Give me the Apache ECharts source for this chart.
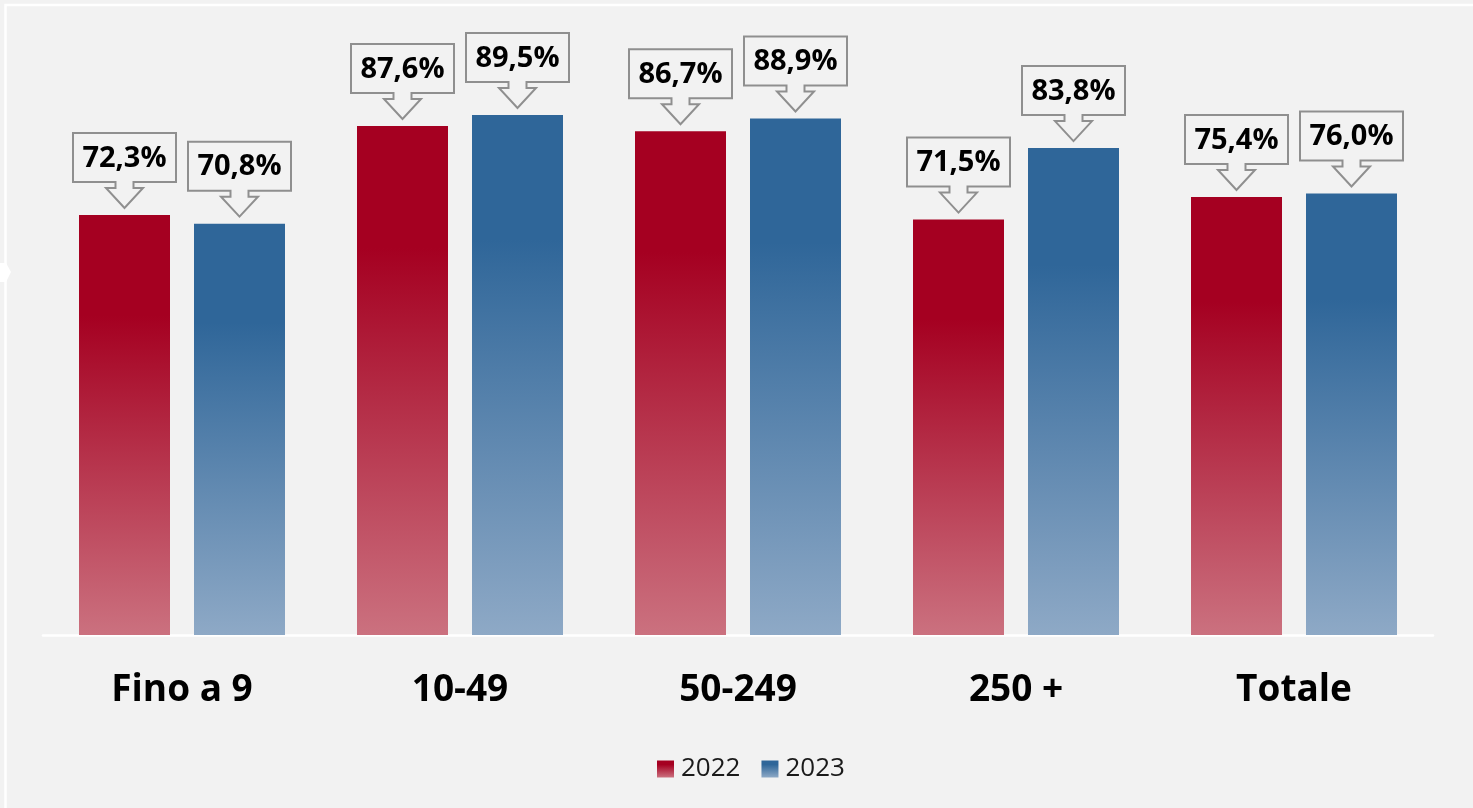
<!DOCTYPE html>
<html>
<head>
<meta charset="utf-8">
<script src="https://cdn.jsdelivr.net/npm/echarts@6/dist/echarts.min.js"></script>
<style>
html,body{margin:0;padding:0;background:#f2f2f2;}
#chart{width:1473px;height:808px;}
</style>
</head>
<body>
<div id="chart"></div>
<script>
const categories = ['Fino a 9', '10-49', '50-249', '250 +', 'Totale'];
const seriesNames = ['2022', '2023'];
const values2022 = [72.3, 87.6, 86.7, 71.5, 75.4];
const values2023 = [70.8, 89.5, 88.9, 83.8, 76.0];

const FONT = '"Open Sans", "Noto Sans", sans-serif';
const BAR_W = 91;
const BAR_GAP = 24;
const RED_TOP = '#a50021', RED_BOT = '#cb717f';
const BLUE_TOP = '#2f6699', BLUE_BOT = '#8ea9c6';

function grad(top, bot) {
  return new echarts.graphic.LinearGradient(0, 0, 0, 1, [
    {offset: 0, color: top},
    {offset: 0.24, color: top},
    {offset: 1, color: bot}
  ]);
}

function fmt(v) { return v.toFixed(1).replace('.', ',') + '%'; }

function calloutSeries(vals, sign) {
  return {
    type: 'custom',
    coordinateSystem: 'cartesian2d',
    silent: true,
    z: 5,
    data: vals.map((v, i) => [i, v]),
    encode: {x: 0, y: 1},
    renderItem: function (params, api) {
      const p = api.coord([api.value(0), api.value(1)]);
      const cx = p[0] + sign * (BAR_W + BAR_GAP) / 2;
      const y0 = p[1];
      const hw = 51.5, top = y0 - 82, bot = y0 - 33;
      const sw = 9, hh = 18.5, sh = y0 - 27, tip = y0 - 7;
      const pts = [
        [cx - hw, top], [cx + hw, top], [cx + hw, bot],
        [cx + sw, bot], [cx + sw, sh], [cx + hh, sh], [cx, tip],
        [cx - hh, sh], [cx - sw, sh], [cx - sw, bot], [cx - hw, bot]
      ];
      return {
        type: 'group',
        children: [
          {type: 'polygon', shape: {points: pts},
           style: {fill: '#f2f2f2', stroke: '#8f8f8f', lineWidth: 2}},
          {type: 'text', x: cx, y: (top + bot) / 2 + 1,
           style: {text: fmt(api.value(1)), textAlign: 'center', textVerticalAlign: 'middle',
                   fontSize: 29, fontWeight: 'bold', fontFamily: FONT, fill: '#000'}}
        ]
      };
    }
  };
}

const chart = echarts.init(document.getElementById('chart'));
chart.setOption({
  animation: false,
  backgroundColor: '#f2f2f2',
  graphic: [
    {type: 'rect', shape: {x: 5.5, y: 5, width: 1500, height: 900},
     style: {fill: 'none', stroke: '#ffffff', lineWidth: 2.5}},
    {type: 'polygon', shape: {points: [[0, 263], [6, 263], [11, 272], [6, 282], [0, 282]]},
     style: {fill: '#ffffff'}}
  ],
  grid: {left: 43, right: 40, top: 54, bottom: 173, containLabel: false},
  legend: {
    data: seriesNames,
    left: 652, top: 751,
    icon: 'rect', itemWidth: 17, itemHeight: 17, itemGap: 21,
    textStyle: {fontFamily: FONT, fontSize: 26, color: '#1a1a1a', padding: [0, 0, 0, 2]}
  },
  xAxis: {
    type: 'category',
    data: categories,
    axisLine: {show: true, lineStyle: {color: '#ffffff', width: 2.5}},
    axisTick: {show: false},
    axisLabel: {fontFamily: FONT, fontSize: 37, fontWeight: 'bold', color: '#000', margin: 37}
  },
  yAxis: {
    type: 'value', min: 0, max: 100,
    show: false, splitLine: {show: false}
  },
  series: [
    {name: '2022', type: 'bar', data: values2022, barWidth: BAR_W, barGap: (BAR_GAP / BAR_W * 100) + '%',
     itemStyle: {color: grad(RED_TOP, RED_BOT)}},
    {name: '2023', type: 'bar', data: values2023, barWidth: BAR_W,
     itemStyle: {color: grad(BLUE_TOP, BLUE_BOT)}},
    calloutSeries(values2022, -1),
    calloutSeries(values2023, 1)
  ]
});
</script>
</body>
</html>
